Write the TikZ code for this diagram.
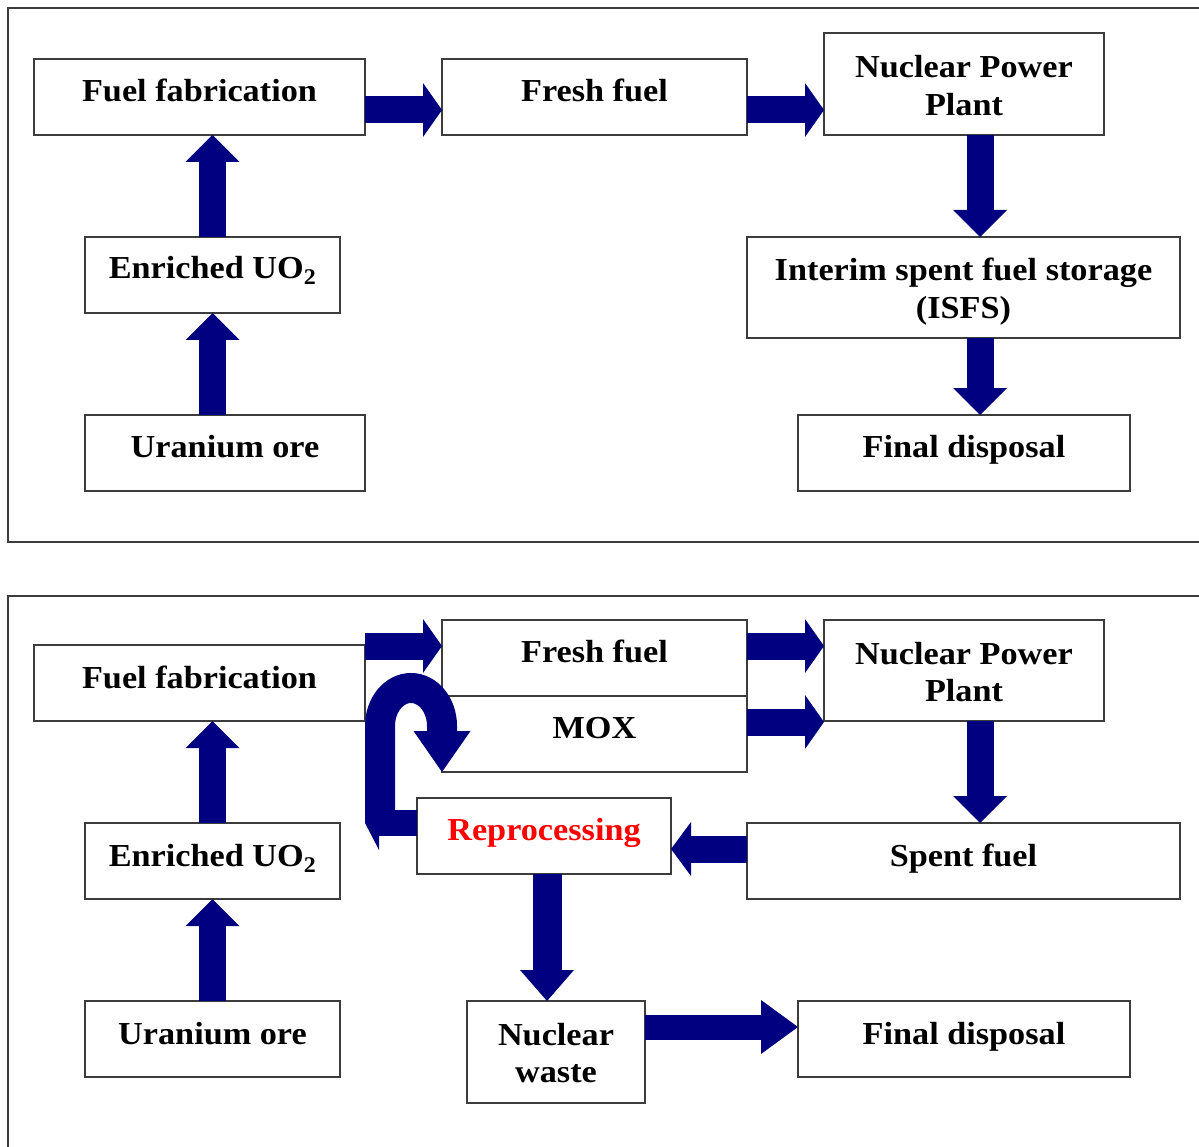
\documentclass[tikz,border=0pt]{standalone}
\usepackage{fontspec}
\setmainfont{Liberation Serif}[FakeStretch=1.07]
\usetikzlibrary{arrows.meta,calc}
\definecolor{navyblue}{RGB}{0,0,128}
\definecolor{boxline}{RGB}{60,60,60}
\newcommand\mlines[1]{\begin{tabular}[t]{@{}c@{}}#1\end{tabular}}
\begin{document}
\begin{tikzpicture}[x=1pt,y=-1pt,
  box/.style={draw=boxline, line width=1.2pt, fill=white, inner sep=0pt, outer sep=0pt, rectangle},
  lbl/.style={anchor=base, inner sep=0pt, font=\fontsize{32}{37.5}\selectfont\bfseries},
  frame/.style={draw=boxline, line width=1.2pt},
  barrow/.style={draw=navyblue, line width=27pt, -{Triangle[width=54pt,length=#1,line width=0pt]}},
  barrow/.default=22pt]
\useasboundingbox (0,0) rectangle (1199,1147);
\clip (0,0) rectangle (1199,1147);
\fill[white] (0,0) rectangle (1199,1147);
% frames
\draw[frame] (8,8) rectangle (1220,542);
\draw[frame] (8,596) rectangle (1220,1170);

% ---------- top panel ----------
\node[box, minimum width=331pt, minimum height=76pt] (ff1) at (199.5,97) {};
\node[box, minimum width=305pt, minimum height=76pt] (fresh1) at (594.5,97) {};
\node[box, minimum width=280pt, minimum height=102pt] (npp1) at (964,84) {};
\node[box, minimum width=255pt, minimum height=76pt] (enr1) at (212.5,275) {};
\node[box, minimum width=280pt, minimum height=76pt] (ura1) at (225,453) {};
\node[box, minimum width=433pt, minimum height=101pt] (isfs) at (963.5,287.5) {};
\node[box, minimum width=332pt, minimum height=76pt] (fd1) at (964,453) {};

\node[lbl] (ff1t) at ([yshift=-42.5pt]ff1.north) {Fuel fabrication};
\node[lbl] (fresh1t) at ([yshift=-42.5pt]fresh1.north) {Fresh fuel};
\node[lbl] (npp1t) at ([yshift=-45pt]npp1.north) {\mlines{Nuclear Power\\Plant}};
\node[lbl] (enr1t) at ([yshift=-41.5pt]enr1.north) {Enriched UO\textsubscript{2}};
\node[lbl] (ura1t) at ([yshift=-42.5pt]ura1.north) {Uranium ore};
\node[lbl] (isfst) at ([yshift=-44pt]isfs.north) {\mlines{Interim spent fuel storage\\(ISFS)}};
\node[lbl] (fd1t) at ([yshift=-42.5pt]fd1.north) {Final disposal};

\draw[barrow=19pt] ([yshift=-13pt]ff1.east) -- ([yshift=-13pt]fresh1.west);
\draw[barrow=19pt] ([yshift=-13pt]fresh1.east) -- ([yshift=-13pt]fresh1.east -| npp1.west);
\draw[barrow=27pt] (enr1.north) -- (enr1.north |- ff1.south);
\draw[barrow=27pt] (enr1.south |- ura1.north) -- (enr1.south);
\draw[barrow=27pt] ([xshift=16pt]npp1.south) -- ([xshift=16pt]npp1.south |- isfs.north);
\draw[barrow=27pt] ([xshift=16.5pt]isfs.south) -- ([xshift=16.5pt]isfs.south |- fd1.north);

% ---------- bottom panel ----------
\node[box, minimum width=331pt, minimum height=76pt] (ff2) at (199.5,683) {};
\node[box, minimum width=305pt, minimum height=76pt] (fresh2) at (594.5,658) {};
\node[box, minimum width=305pt, minimum height=76pt] (mox) at (594.5,734) {};
\node[box, minimum width=280pt, minimum height=101pt] (npp2) at (964,670.5) {};
\node[box, minimum width=255pt, minimum height=76pt] (enr2) at (212.5,861) {};
\node[box, minimum width=255pt, minimum height=76pt] (ura2) at (212.5,1039) {};
\node[box, minimum width=254pt, minimum height=76pt] (rep) at (544,836) {};
\node[box, minimum width=433pt, minimum height=76pt] (spent) at (963.5,861) {};
\node[box, minimum width=178pt, minimum height=102pt] (nw) at (556,1052) {};
\node[box, minimum width=332pt, minimum height=76pt] (fd2) at (964,1039) {};

\node[lbl] (ff2t) at ([yshift=-43pt]ff2.north) {Fuel fabrication};
\node[lbl] (fresh2t) at ([yshift=-42pt]fresh2.north) {Fresh fuel};
\node[lbl] (moxt) at ([yshift=-42pt]mox.north) {MOX};
\node[lbl] (npp2t) at ([yshift=-44pt]npp2.north) {\mlines{Nuclear Power\\Plant}};
\node[lbl] (enr2t) at ([yshift=-43pt]enr2.north) {Enriched UO\textsubscript{2}};
\node[lbl] (ura2t) at ([yshift=-43pt]ura2.north) {Uranium ore};
\node[lbl, text=red] (rept) at ([yshift=-42pt]rep.north) {Reprocessing};
\node[lbl] (spentt) at ([yshift=-43pt]spent.north) {Spent fuel};
\node[lbl] (nwt) at ([yshift=-44pt]nw.north) {\mlines{Nuclear\\waste}};
\node[lbl] (fd2t) at ([yshift=-43pt]fd2.north) {Final disposal};

\draw[barrow=19pt] ([yshift=12pt]fresh2.west -| ff2.east) -- ([yshift=12pt]fresh2.west);
\draw[barrow=19pt] ([yshift=12pt]fresh2.east) -- ([yshift=12pt]fresh2.east -| npp2.west);
\draw[barrow=19pt] ([yshift=12pt]mox.east) -- ([yshift=12pt]mox.east -| npp2.west);
\draw[barrow=27pt] ([xshift=16pt]npp2.south) -- ([xshift=16pt]npp2.south |- spent.north);
\draw[barrow=20pt] ([yshift=12pt]spent.west) -- ([yshift=12pt]spent.west -| rep.east);
\draw[barrow=31pt, line width=29pt] ([xshift=3pt]rep.south) -- ([xshift=3pt]rep.south |- nw.north);
\draw[barrow=37pt, line width=25pt] ([yshift=25pt]nw.east) -- ([yshift=25pt]nw.east -| fd2.west);
\draw[barrow=27pt] (enr2.north) -- (enr2.north |- ff2.south);
\draw[barrow=27pt] (ura2.north) -- (enr2.south);

% recycle loop
\coordinate (lt) at (365,823);
\coordinate (ubot) at (380,823);
\draw[barrow=14pt, line width=26pt] ([yshift=13pt]rep.west) -- (lt);
\draw[draw=navyblue, line width=30pt, -{Triangle[width=57pt,length=41pt,line width=0pt]}]
  (ubot) -- (380,726) arc[start angle=180, end angle=0, x radius=31pt, y radius=38pt] -- (mox.south west);
\end{tikzpicture}
\end{document}
